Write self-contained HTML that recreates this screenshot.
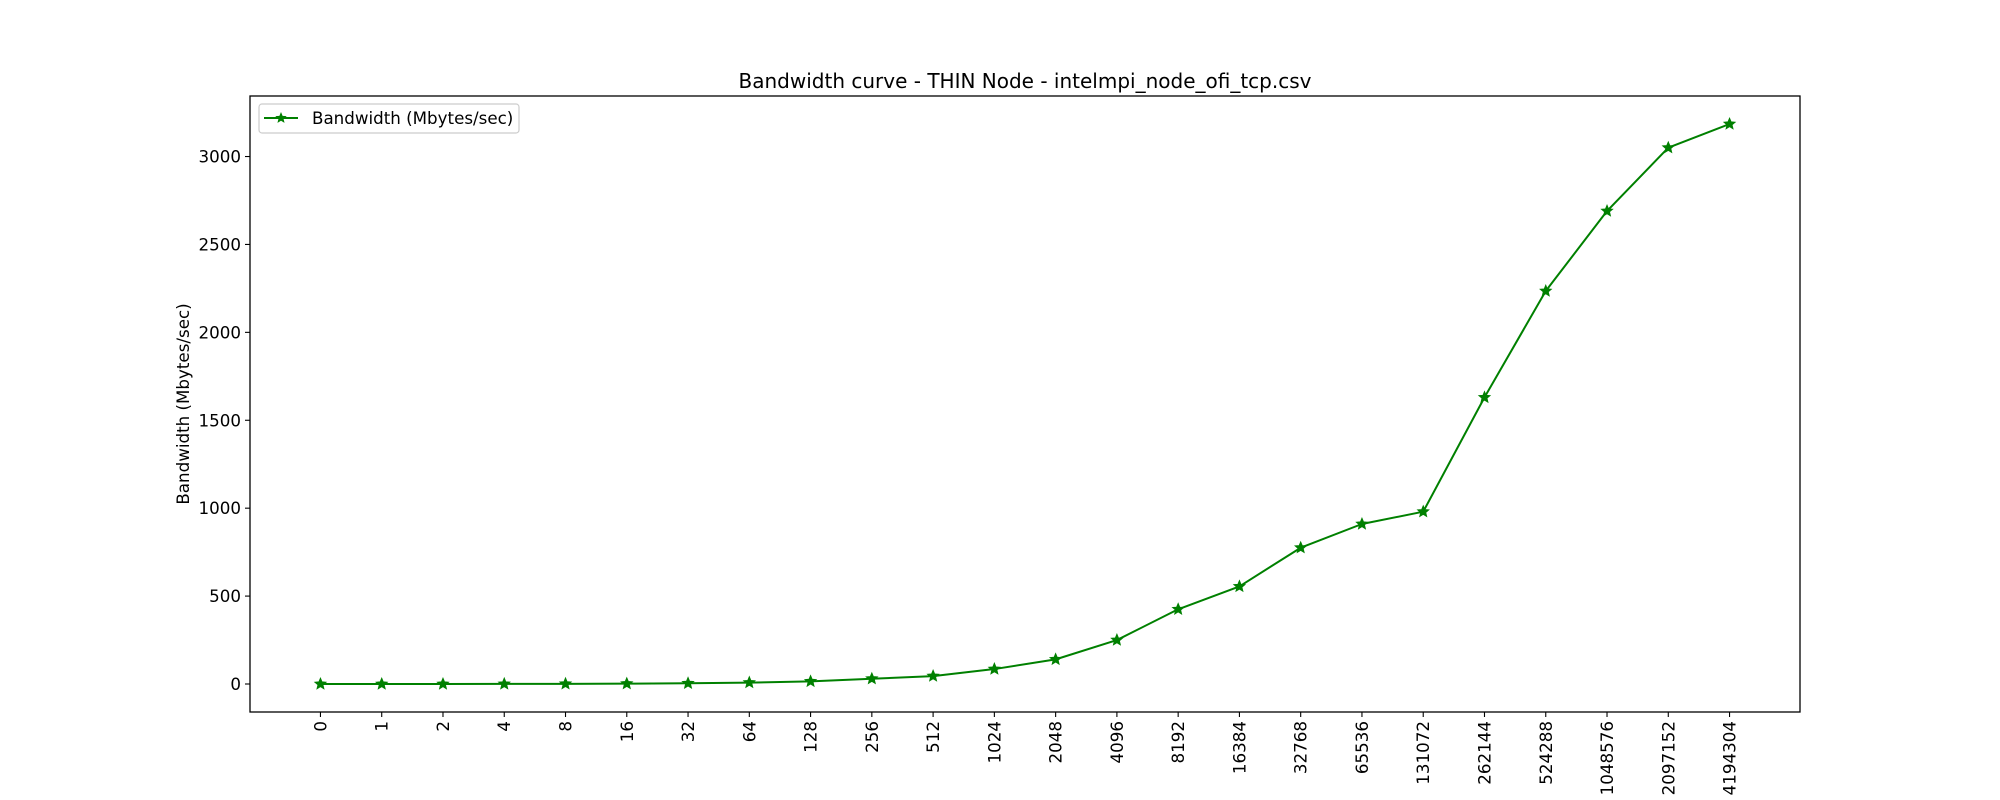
<!DOCTYPE html>
<html><head><meta charset="utf-8"><style>
html,body{margin:0;padding:0;background:#fff}
svg{display:block;font-family:"DejaVu Sans","Liberation Sans",sans-serif}
</style></head><body>
<svg id="chart" width="2000" height="800" viewBox="0 0 2000 800" xmlns="http://www.w3.org/2000/svg">
<rect width="2000" height="800" fill="#fff"/>
<text x="1025" y="88" font-size="20" text-anchor="middle" fill="#000">Bandwidth curve - THIN Node - intelmpi_node_ofi_tcp.csv</text>
<text transform="translate(189,404) rotate(-90)" font-size="16.7" text-anchor="middle" fill="#000">Bandwidth (Mbytes/sec)</text>
<g id="grid"></g>
<g id="series"></g>
<rect x="250" y="96" width="1550" height="616" fill="none" stroke="#000" stroke-width="1.3"/>
<g>
<rect x="259" y="104" width="260" height="29" rx="3" fill="#fff" fill-opacity="0.8" stroke="#ccc" stroke-width="1.2"/>
<line x1="264" y1="118" x2="298" y2="118" stroke="#008000" stroke-width="2"/>
<polygon id="legstar" fill="#008000"/>
<text x="312" y="124" font-size="16.7" fill="#000">Bandwidth (Mbytes/sec)</text>
</g>
</svg>
<script>
const categories = ["0","1","2","4","8","16","32","64","128","256","512","1024","2048","4096","8192","16384","32768","65536","131072","262144","524288","1048576","2097152","4194304"];
const bandwidth = [0,0,0,0.5,1,2,4,8,15,30,45,85,140,250,425,555,775,910,980,1630,2235,2690,3050,3185];
const yTicks = [0,500,1000,1500,2000,2500,3000];

const NS="http://www.w3.org/2000/svg";
const L=250,R=1800,T=96,B=712;
const n=categories.length;
const xMin=-0.05*(n-1), xMax=(n-1)*1.05;
const dMax=Math.max(...bandwidth), dMin=Math.min(...bandwidth);
const yMin=dMin-0.05*(dMax-dMin), yMax=dMax+0.05*(dMax-dMin);
const xs=i=>L+(i-xMin)/(xMax-xMin)*(R-L);
const ys=v=>B-(v-yMin)/(yMax-yMin)*(B-T);
function mk(tag,attrs,parent){const e=document.createElementNS(NS,tag);for(const k in attrs)e.setAttribute(k,attrs[k]);parent.appendChild(e);return e;}
function star(cx,cy,r){let p=[];for(let k=0;k<10;k++){const a=-Math.PI/2+k*Math.PI/5;const rr=k%2?r*0.45:r;p.push((cx+rr*Math.cos(a)).toFixed(2)+","+(cy+rr*Math.sin(a)).toFixed(2));}return p.join(" ");}
const g=document.getElementById('grid');
yTicks.forEach(v=>{
  const y=ys(v);
  const t=mk('line',{x1:L-5,x2:L,y1:y,y2:y,stroke:'#000','stroke-width':1.1},g);
  
  
  const tx=mk('text',{x:L-9,y:y+6,'font-size':16.7,'text-anchor':'end',fill:'#000'},g);
  
  
  tx.textContent=v;
});
categories.forEach((c,i)=>{
  const x=xs(i);
  const t=mk('line',{x1:x,x2:x,y1:B,y2:B+5,stroke:'#000','stroke-width':1.1},g);
  
  
  const tx=mk('text',{transform:`translate(${x+6},${B+9}) rotate(-90)`,'font-size':16.7,'text-anchor':'end',fill:'#000'},g);
  
  
  tx.textContent=c;
});
const s=document.getElementById('series');
const pl=mk('polyline',{points:bandwidth.map((v,i)=>xs(i)+","+ys(v)).join(" "),fill:'none',stroke:'#008000','stroke-width':2,'stroke-linejoin':'round'},s);


bandwidth.forEach((v,i)=>{
  const p=mk('polygon',{points:star(xs(i),ys(v),6),fill:'#008000',stroke:'#008000','stroke-width':0.8},s);
  
  
});
document.getElementById('legstar').setAttribute('points',star(281,118,6));
</script>
</body></html>
